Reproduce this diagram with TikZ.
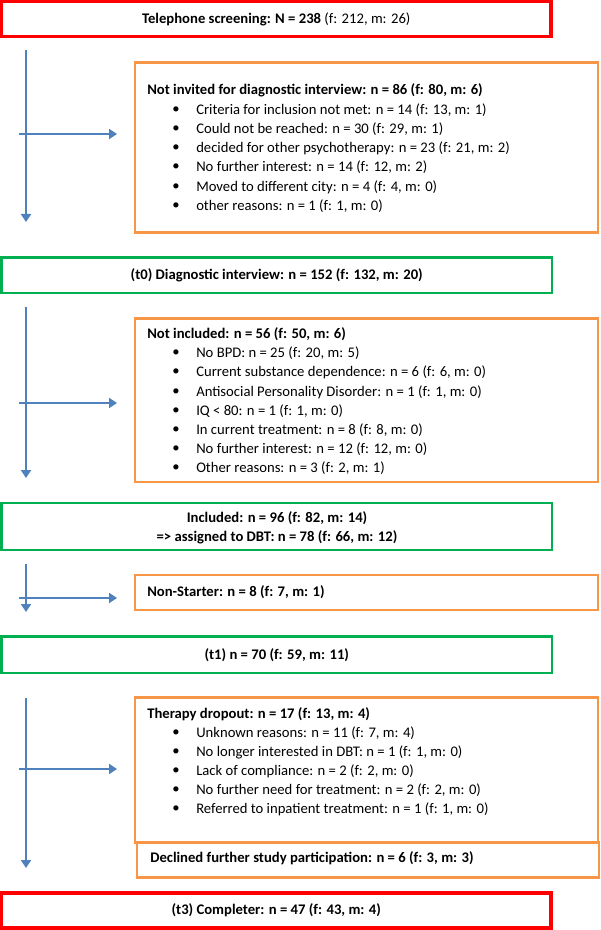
\documentclass[tikz,border=0pt]{standalone}
\usepackage{fontspec}
\setmainfont{Carlito}
\usetikzlibrary{arrows.meta,fit}
\definecolor{cred}{RGB}{255,0,0}
\definecolor{cgreen}{RGB}{0,176,80}
\definecolor{corange}{RGB}{247,150,70}
\definecolor{cblue}{RGB}{79,129,189}
\begin{document}
\begin{tikzpicture}[x=0.75pt,y=-0.75pt,
  rbox/.style={draw=cred, line width=2.3pt, inner sep=0pt},
  gbox/.style={draw=cgreen, line width=1.9pt, inner sep=0pt},
  obox/.style={draw=corange, line width=1.7pt, inner sep=0pt},
  barrow/.style={draw=cblue, line width=1.7pt, -{Triangle[length=6pt,width=7.5pt]}},
  txt/.style={font=\fontsize{11pt}{13pt}\selectfont, inner sep=0pt},
  ltxt/.style={txt, anchor=west},
  bul/.style={txt}
]
\useasboundingbox (0,0) rectangle (600,930);

% ---------- boxes ----------
\coordinate (r1a) at (1.5,1.5); \coordinate (r1b) at (551,36.5);
\node[rbox, fit=(r1a)(r1b)] (screen) {};
\coordinate (o1a) at (135,62.5); \coordinate (o1b) at (598,232.5);
\node[obox, fit=(o1a)(o1b)] (notinv) {};
\coordinate (g1a) at (1.5,257.5); \coordinate (g1b) at (552,293);
\node[gbox, fit=(g1a)(g1b)] (diag) {};
\coordinate (o2a) at (135,318.5); \coordinate (o2b) at (598,482);
\node[obox, fit=(o2a)(o2b)] (notinc) {};
\coordinate (g2a) at (1.5,503); \coordinate (g2b) at (552,550);
\node[gbox, fit=(g2a)(g2b)] (incl) {};
\coordinate (o3a) at (135,575); \coordinate (o3b) at (598,610);
\node[obox, fit=(o3a)(o3b)] (nonstart) {};
\coordinate (g3a) at (1.5,636.5); \coordinate (g3b) at (552,673);
\node[gbox, fit=(g3a)(g3b)] (tone) {};
\coordinate (o4a) at (135,697.5); \coordinate (o4b) at (598,842.5);
\node[obox, fit=(o4a)(o4b)] (drop) {};
\coordinate (o5a) at (137,842.5); \coordinate (o5b) at (599,877.5);
\node[obox, fit=(o5a)(o5b)] (decl) {};
\coordinate (r2a) at (1.5,893); \coordinate (r2b) at (551,928);
\node[rbox, fit=(r2a)(r2b)] (compl) {};

% ---------- texts ----------
\node[txt] (tscreen) at (screen.center) {\textbf{Telephone screening: N = 238} (f: 212, m: 26)};

\node[ltxt] (t1h) at (147,90.5) {\textbf{Not invited for diagnostic interview: n = 86 (f: 80, m: 6)}};
\node[bul] (b11) at (176,110) {•}; \node[ltxt] (t11) at (196,110) {Criteria for inclusion not met: n = 14 (f: 13, m: 1)};
\node[bul] (b12) at (176,129) {•}; \node[ltxt] (t12) at (196,129) {Could not be reached: n = 30 (f: 29, m: 1)};
\node[bul] (b13) at (176,148) {•}; \node[ltxt] (t13) at (196,148) {decided for other psychotherapy: n = 23 (f: 21, m: 2)};
\node[bul] (b14) at (176,167.5) {•}; \node[ltxt] (t14) at (196,167.5) {No further interest: n = 14 (f: 12, m: 2)};
\node[bul] (b15) at (176,187) {•}; \node[ltxt] (t15) at (196,187) {Moved to different city: n = 4 (f: 4, m: 0)};
\node[bul] (b16) at (176,206) {•}; \node[ltxt] (t16) at (196,206) {other reasons: n = 1 (f: 1, m: 0)};

\node[txt] (tdiag) at (diag.center) {\textbf{(t0) Diagnostic interview: n = 152 (f: 132, m: 20)}};

\node[ltxt] (t2h) at (147,334.5) {\textbf{Not included: n = 56 (f: 50, m: 6)}};
\node[bul] (b21) at (176,353.5) {•}; \node[ltxt] (t21) at (196,353.5) {No BPD: n = 25 (f: 20, m: 5)};
\node[bul] (b22) at (176,372.5) {•}; \node[ltxt] (t22) at (196,372.5) {Current substance dependence: n = 6 (f: 6, m: 0)};
\node[bul] (b23) at (176,392) {•}; \node[ltxt] (t23) at (196,392) {Antisocial Personality Disorder: n = 1 (f: 1, m: 0)};
\node[bul] (b24) at (176,411) {•}; \node[ltxt] (t24) at (196,411) {IQ < 80: n = 1 (f: 1, m: 0)};
\node[bul] (b25) at (176,430) {•}; \node[ltxt] (t25) at (196,430) {In current treatment: n = 8 (f: 8, m: 0)};
\node[bul] (b26) at (176,449) {•}; \node[ltxt] (t26) at (196,449) {No further interest: n = 12 (f: 12, m: 0)};
\node[bul] (b27) at (176,468.5) {•}; \node[ltxt] (t27) at (196,468.5) {Other reasons: n = 3 (f: 2, m: 1)};

\node[txt] (tinc1) at (277,518) {\textbf{Included: n = 96 (f: 82, m: 14)}};
\node[txt] (tinc2) at (277,537) {\textbf{=> assigned to DBT: n = 78 (f: 66, m: 12)}};

\node[ltxt] (tns) at (147,592) {\textbf{Non-Starter: n = 8 (f: 7, m: 1)}};

\node[txt] (ttone) at (tone.center) {\textbf{(t1) n = 70 (f: 59, m: 11)}};

\node[ltxt] (t4h) at (147,714) {\textbf{Therapy dropout: n = 17 (f: 13, m: 4)}};
\node[bul] (b41) at (176,733) {•}; \node[ltxt] (t41) at (196,733) {Unknown reasons: n = 11 (f: 7, m: 4)};
\node[bul] (b42) at (176,752) {•}; \node[ltxt] (t42) at (196,752) {No longer interested in DBT: n = 1 (f: 1, m: 0)};
\node[bul] (b43) at (176,771) {•}; \node[ltxt] (t43) at (196,771) {Lack of compliance: n = 2 (f: 2, m: 0)};
\node[bul] (b44) at (176,790) {•}; \node[ltxt] (t44) at (196,790) {No further need for treatment: n = 2 (f: 2, m: 0)};
\node[bul] (b45) at (176,809) {•}; \node[ltxt] (t45) at (196,809) {Referred to inpatient treatment: n = 1 (f: 1, m: 0)};

\node[ltxt] (tdecl) at (150,858.5) {\textbf{Declined further study participation: n = 6 (f: 3, m: 3)}};

\node[txt] (tcompl) at (compl.center) {\textbf{(t3) Completer: n = 47 (f: 43, m: 4)}};

% ---------- arrows ----------
\coordinate (v1s) at (26,50);  \coordinate (v1e) at (26,222);
\coordinate (h1s) at (19,134); \coordinate (h1e) at (117,134);
\coordinate (v2s) at (26,307); \coordinate (v2e) at (26,478);
\coordinate (h2s) at (19,403); \coordinate (h2e) at (117,403);
\coordinate (v3s) at (26,564); \coordinate (v3e) at (26,612);
\coordinate (h3s) at (19,598); \coordinate (h3e) at (117,598);
\coordinate (v4s) at (26,698); \coordinate (v4e) at (26,868);
\coordinate (h4s) at (19,769); \coordinate (h4e) at (117,769);
\foreach \n in {1,2,3,4} {
  \draw[barrow] (v\n s) -- (v\n e);
  \draw[barrow] (h\n s) -- (h\n e);
}
\end{tikzpicture}
\end{document}
